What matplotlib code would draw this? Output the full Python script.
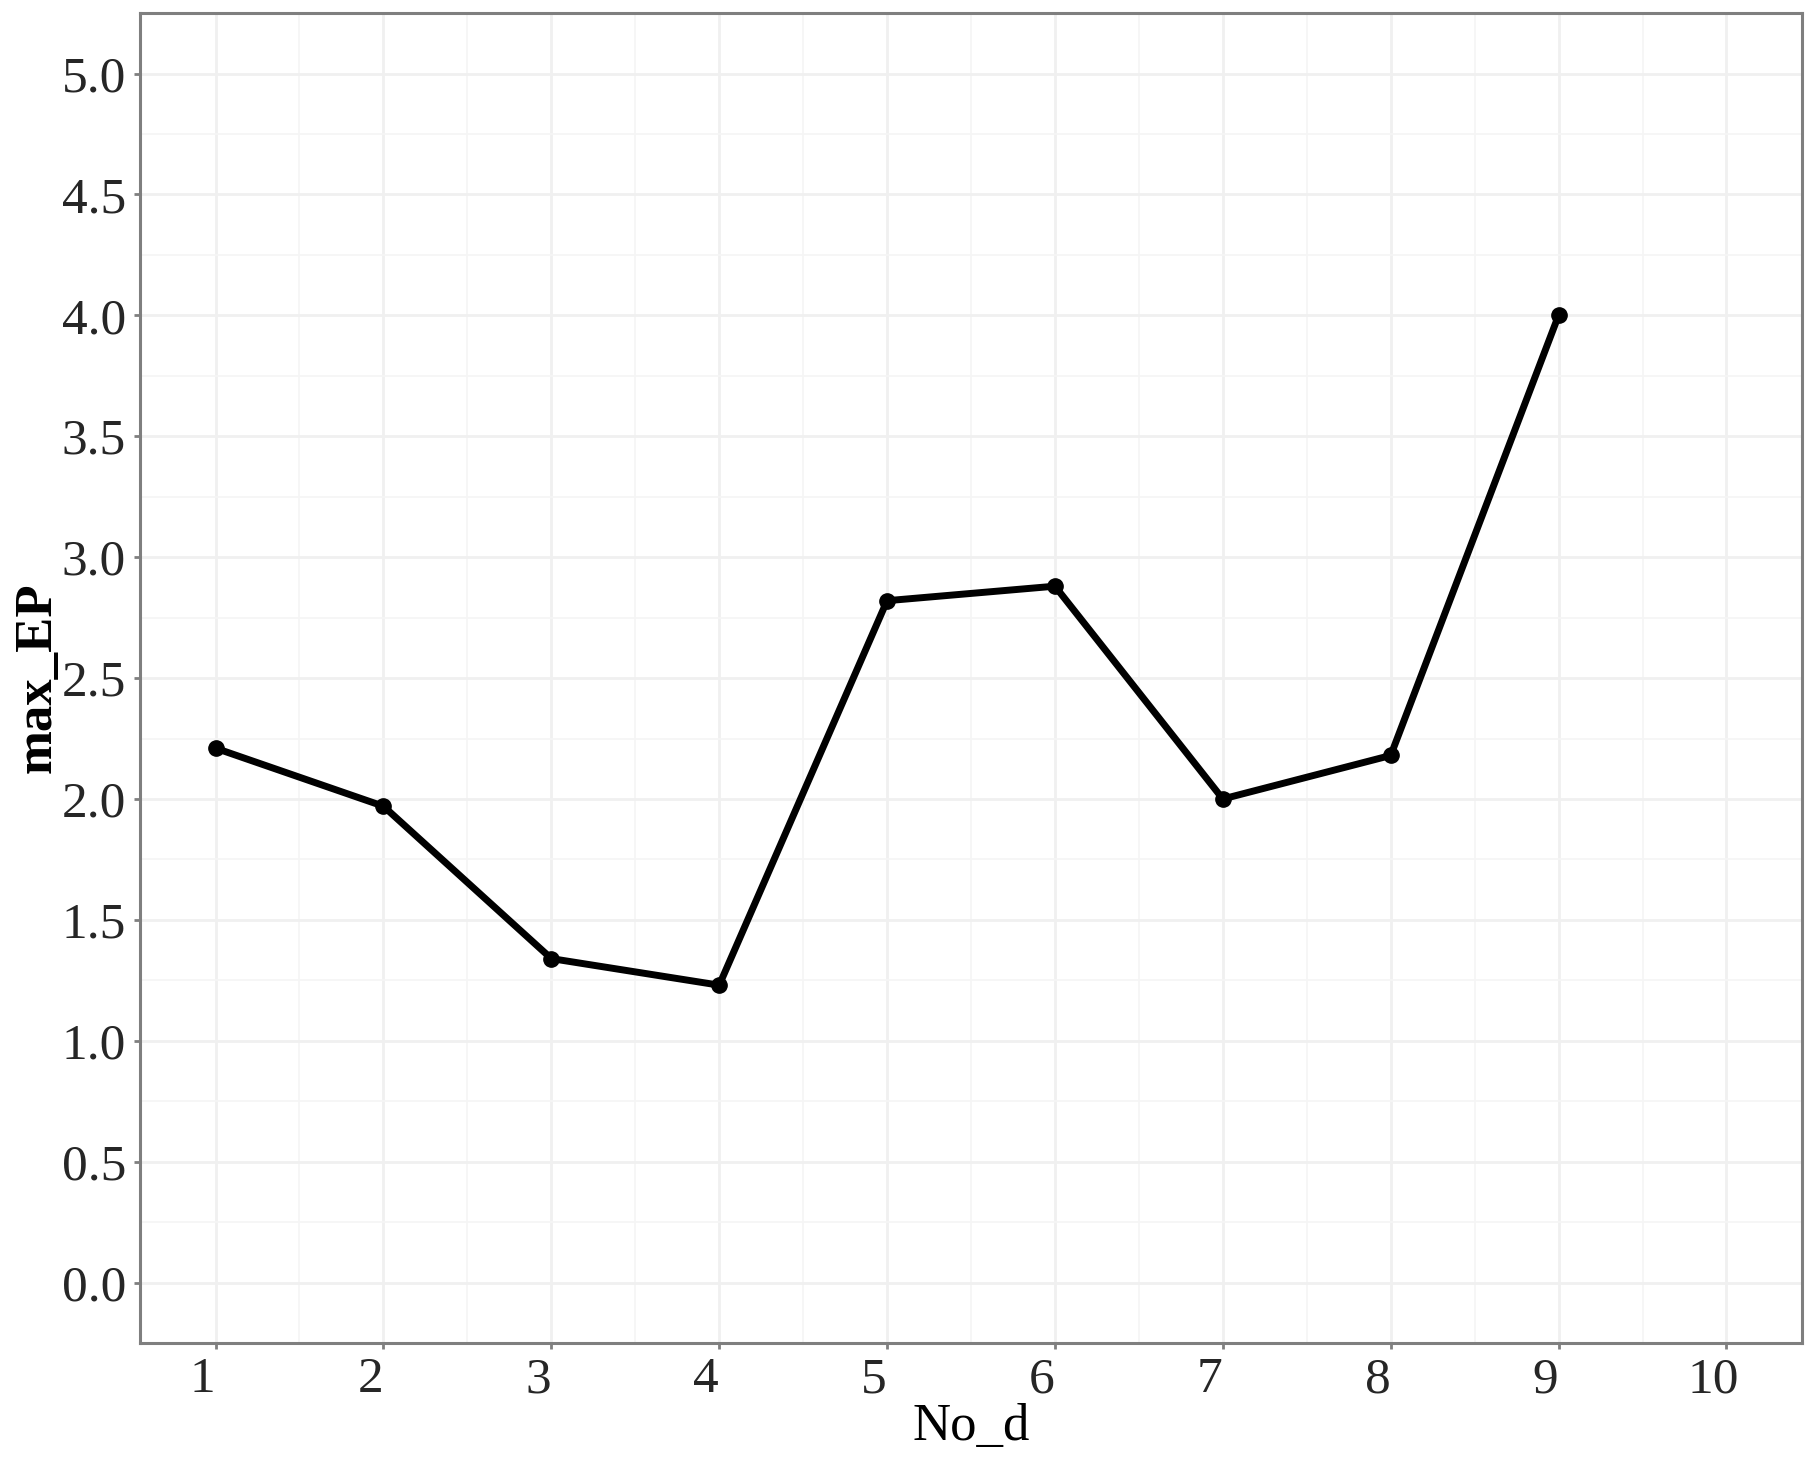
import matplotlib
matplotlib.use("Agg")
import matplotlib.pyplot as plt
import matplotlib.transforms as mtransforms
import numpy as np

# data
no_d = [1, 2, 3, 4, 5, 6, 7, 8, 9]
max_ep = [2.21, 1.97, 1.34, 1.23, 2.82, 2.88, 2.00, 2.18, 4.00]
x_ticks = [1, 2, 3, 4, 5, 6, 7, 8, 9, 10]
y_ticks = [0.0, 0.5, 1.0, 1.5, 2.0, 2.5, 3.0, 3.5, 4.0, 4.5, 5.0]

plt.rcParams['font.family'] = ['Liberation Serif', 'DejaVu Serif']

fig = plt.figure(figsize=(18.16, 14.68), dpi=100)
ax = fig.add_axes([0.0771, 0.0851, 0.9152, 0.906])

# ggplot-like grid (major + minor)
for x in x_ticks:
    ax.axvline(x, color='#F0F0F0', lw=2.0, zorder=0)
for x in np.arange(1.5, 10.5, 1.0):
    ax.axvline(x, color='#F5F5F5', lw=1.2, zorder=0)
for y in y_ticks:
    ax.axhline(y, color='#F0F0F0', lw=2.0, zorder=0)
for y in np.arange(0.25, 5.25, 0.5):
    ax.axhline(y, color='#F5F5F5', lw=1.2, zorder=0)

ax.plot(no_d, max_ep, color='black', lw=5, marker='o', markersize=11,
        solid_capstyle='round', zorder=3)

ax.set_xlim(0.55, 10.45)
ax.set_ylim(-0.25, 5.25)
ax.set_xticks(x_ticks)
ax.set_xticklabels([str(v) for v in x_ticks])
ax.set_yticks(y_ticks)
ax.set_yticklabels([f'{v:.1f}' for v in y_ticks])

for s in ax.spines.values():
    s.set_color('#7F7F7F')
    s.set_linewidth(2.2)

ax.tick_params(axis='both', which='major', length=4, width=2, color='#7F7F7F',
               labelsize=37, labelcolor='#262626', pad=6)

# x tick labels sit a little left of their ticks in the reference
shift = mtransforms.ScaledTranslation(-0.13, 0, fig.dpi_scale_trans)
for lab in ax.get_xticklabels():
    lab.set_transform(lab.get_transform() + shift)

ax.set_xlabel('No_d', fontsize=38, labelpad=0)
ax.set_ylabel('max_EP', fontsize=38, labelpad=0, fontweight='bold')

plt.savefig('out.png', dpi=100)
